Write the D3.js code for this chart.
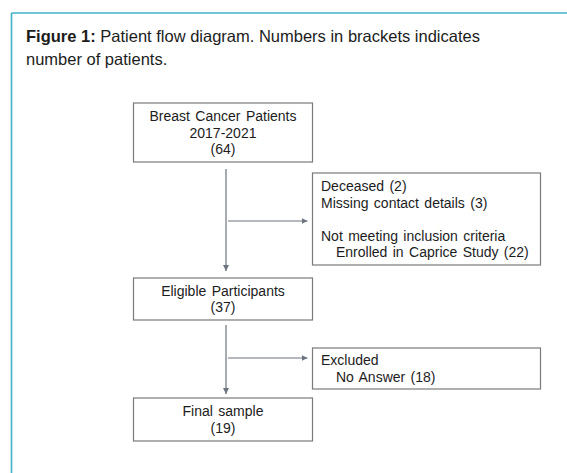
<!DOCTYPE html>
<html>
<head>
<meta charset="utf-8">
<script src="https://cdn.jsdelivr.net/npm/d3@7"></script>
<style>
  body { margin: 0; background: #fff; }
  text { font-family: "Liberation Sans", Arial, sans-serif; fill: #1c1c1c; }
</style>
</head>
<body>
<div id="chart"></div>
<script>
// Data
const titleBold = "Figure 1:";
const titleLines = [" Patient flow diagram. Numbers in brackets indicates", "number of patients."];
const mainLabels = [["Breast Cancer Patients", "2017-2021"], ["Eligible Participants"], ["Final sample"]];
const mainCounts = [64, 37, 19];
const sideLines = [
  ["Deceased (2)", "Missing contact details (3)", "", "Not meeting inclusion criteria", "Enrolled in Caprice Study (22)"],
  ["Excluded", "No Answer (18)"]
];
const sideIndent = [[0, 0, 0, 0, 1], [0, 1]];

// Layout
const width = 567, height = 473;
const mainX = 133.5, mainW = 179;
const sideX = 312.5, sideW = 228;
const mainTop = [103, 278, 398], mainH = [59, 42, 43];
const sideTop = [173, 348], sideH = [92, 41];
const sideArrowY = [221, 358];
const trunkX = 226;
const trunkGap = [[7, 7], [5, 4]]; // gap below box / above next box
const lineH = 16.5;
const lineColor = "#6c7480";
const boxColor = "#7a7a7a";

let svg = d3.select("#chart")
  .append("svg")
  .attr("width", width)
  .attr("height", height);

// Frame lines (teal)
svg.append("line")
  .attr("x1", 11.5).attr("y1", 13).attr("x2", width).attr("y2", 13)
  .attr("stroke", "#3fb3c9").attr("stroke-width", 1.6);
svg.append("line")
  .attr("x1", 11.5).attr("y1", 13).attr("x2", 11.5).attr("y2", height)
  .attr("stroke", "#3fb3c9").attr("stroke-width", 1.6);

// Title
let t1 = svg.append("text")
  .attr("x", 26).attr("y", 41.5)
  .style("font-size", "16.5px");
t1.append("tspan").style("font-weight", "bold").text(titleBold);
t1.append("tspan").text(titleLines[0]);
svg.append("text")
  .attr("x", 26).attr("y", 64.5)
  .style("font-size", "16.5px")
  .text(titleLines[1]);

// Arrow marker
svg.append("defs").append("marker")
  .attr("id", "arrow")
  .attr("viewBox", "0 0 10 10")
  .attr("refX", 10).attr("refY", 5)
  .attr("markerWidth", 6).attr("markerHeight", 6)
  .attr("markerUnits", "userSpaceOnUse")
  .attr("orient", "auto")
  .append("path")
  .attr("d", "M0,0 L10,5 L0,10 Z")
  .attr("fill", lineColor);

// Main boxes
let mainData = mainLabels.map((lines, i) => ({
  lines: lines.concat(["(" + mainCounts[i] + ")"]),
  top: mainTop[i], h: mainH[i]
}));

let mainG = svg.selectAll("g.main")
  .data(mainData)
  .enter()
  .append("g")
  .attr("class", "main");

mainG.append("rect")
  .attr("x", mainX).attr("y", d => d.top)
  .attr("width", mainW).attr("height", d => d.h)
  .attr("fill", "none").attr("stroke", boxColor).attr("stroke-width", 1.2);

mainG.each(function(d) {
  let cy = d.top + d.h / 2;
  let first = cy - (d.lines.length - 1) / 2 * lineH + 5;
  d3.select(this).selectAll("text")
    .data(d.lines)
    .enter()
    .append("text")
    .attr("x", mainX + mainW / 2)
    .attr("y", (s, j) => first + j * lineH)
    .attr("text-anchor", "middle")
    .style("font-size", "14px")
    .style("word-spacing", "1.5px")
    .text(s => s);
});

// Side (exclusion) boxes
let sideG = svg.selectAll("g.side")
  .data(sideLines)
  .enter()
  .append("g")
  .attr("class", "side");

sideG.append("rect")
  .attr("x", sideX).attr("y", (d, i) => sideTop[i])
  .attr("width", sideW).attr("height", (d, i) => sideH[i])
  .attr("fill", "none").attr("stroke", boxColor).attr("stroke-width", 1.2);

sideG.each(function(lines, i) {
  let cy = sideTop[i] + sideH[i] / 2;
  let first = cy - (lines.length - 1) / 2 * lineH + 5;
  d3.select(this).selectAll("text")
    .data(lines)
    .enter()
    .append("text")
    .attr("x", (s, j) => sideX + 8.5 + sideIndent[i][j] * 15)
    .attr("y", (s, j) => first + j * lineH)
    .style("font-size", "14px")
    .style("word-spacing", "1.5px")
    .text(s => s);
});

// Vertical arrows between main boxes
let vArrows = d3.range(mainData.length - 1).map(i => ({
  y1: mainTop[i] + mainH[i] + trunkGap[i][0],
  y2: mainTop[i + 1] - trunkGap[i][1]
}));
svg.selectAll("line.v")
  .data(vArrows)
  .enter()
  .append("line")
  .attr("class", "v")
  .attr("x1", trunkX).attr("x2", trunkX)
  .attr("y1", d => d.y1).attr("y2", d => d.y2)
  .attr("stroke", lineColor).attr("stroke-width", 1.2)
  .attr("marker-end", "url(#arrow)");

// Horizontal arrows to side boxes
svg.selectAll("line.h")
  .data(sideArrowY)
  .enter()
  .append("line")
  .attr("class", "h")
  .attr("x1", trunkX + 2).attr("x2", sideX - 5)
  .attr("y1", d => d).attr("y2", d => d)
  .attr("stroke", lineColor).attr("stroke-width", 1.2)
  .attr("marker-end", "url(#arrow)");
</script>
</body>
</html>
